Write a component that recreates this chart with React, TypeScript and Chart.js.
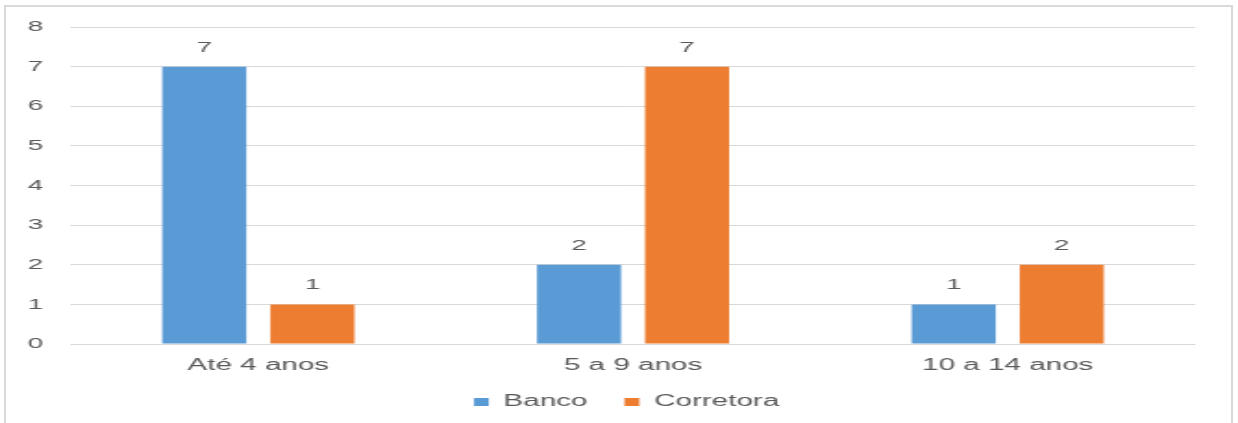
import React, { useEffect, useRef } from "react";
import { Chart, registerables } from "chart.js";

Chart.register(...registerables);

const categories = ["Até 4 anos", "5 a 9 anos", "10 a 14 anos"];
const banco = [7, 2, 1];
const corretora = [1, 7, 2];
const seriesNames = ["Banco", "Corretora"];
const yTicks = [0, 1, 2, 3, 4, 5, 6, 7, 8];

const BLUE = "#5B9BD5";
const ORANGE = "#ED7D31";
const TEXT = "#595959";
const GRID = "#D9D9D9";
const FONT = "'Liberation Sans', Arial, sans-serif";

const PAGE_W = 1238;
const PAGE_H = 423;
const CW = 669;
const S = PAGE_W / CW;
const LEGEND_SHIFT = 29 / S;

const valueLabels = {
  id: "valueLabels",
  afterDatasetsDraw(chart: any) {
    const ctx = chart.ctx;
    ctx.save();
    ctx.fillStyle = TEXT;
    ctx.font = `15px ${FONT}`;
    ctx.textAlign = "center";
    ctx.textBaseline = "alphabetic";
    chart.data.datasets.forEach((ds: any, i: number) => {
      const meta = chart.getDatasetMeta(i);
      meta.data.forEach((el: any, j: number) => {
        ctx.fillText(String(ds.data[j]), el.x, el.y - 15);
      });
    });
    ctx.restore();
  },
};

const legendShift = {
  id: "legendShift",
  afterLayout(chart: any) {
    if (chart.legend) {
      chart.legend.left += LEGEND_SHIFT;
      chart.legend.right += LEGEND_SHIFT;
    }
  },
};

export default function App() {
  const ref = useRef<HTMLCanvasElement>(null);
  useEffect(() => {
    if (!ref.current) return;
    const chart = new Chart(ref.current, {
      type: "bar",
      data: {
        labels: categories,
        datasets: [
          { label: seriesNames[0], data: banco, backgroundColor: BLUE },
          { label: seriesNames[1], data: corretora, backgroundColor: ORANGE },
        ],
      },
      options: {
        responsive: false,
        animation: false,
        devicePixelRatio: 1,
        events: [],
        layout: { padding: { top: 27, bottom: 3, left: 0, right: 23.2 } },
        datasets: {
          bar: { categoryPercentage: 0.577, barPercentage: 0.778 },
        } as any,
        scales: {
          x: {
            grid: { display: false, drawTicks: false },
            border: { display: true, color: GRID, width: 1 },
            ticks: { color: TEXT, font: { family: FONT, size: 16 }, padding: 12 },
            afterFit: (s: any) => { s.height = 30; },
          },
          y: {
            min: 0,
            max: yTicks[yTicks.length - 1],
            afterBuildTicks: (s: any) => { s.ticks = yTicks.map((v) => ({ value: v })); },
            grid: { color: GRID, drawTicks: false, lineWidth: 1 },
            border: { display: false },
            ticks: { color: TEXT, font: { family: FONT, size: 15 }, padding: 15 },
            afterFit: (s: any) => { s.width = 71 / S; },
          },
        },
        plugins: {
          legend: {
            position: "bottom",
            labels: {
              color: TEXT,
              font: { family: FONT, size: 16 },
              boxWidth: 8,
              boxHeight: 8,
              padding: 20,
            },
          },
          tooltip: { enabled: false },
          title: { display: false },
        },
      },
      plugins: [valueLabels, legendShift],
    });
    return () => chart.destroy();
  }, []);

  return (
    <div style={{ position: "absolute", left: 0, top: 0, width: PAGE_W, height: PAGE_H, overflow: "hidden", background: "#fff" }}>
      <div
        style={{
          position: "absolute",
          left: 4,
          top: 5,
          width: 1229,
          height: 440,
          border: `2px solid ${GRID}`,
          boxSizing: "border-box",
        }}
      />
      <div
        style={{
          position: "absolute",
          left: 0,
          top: 0,
          width: CW,
          height: PAGE_H,
          transform: `scaleX(${S})`,
          transformOrigin: "0 0",
        }}
      >
        <canvas ref={ref} width={CW} height={PAGE_H} style={{ width: CW, height: PAGE_H, display: "block" }} />
      </div>
    </div>
  );
}
